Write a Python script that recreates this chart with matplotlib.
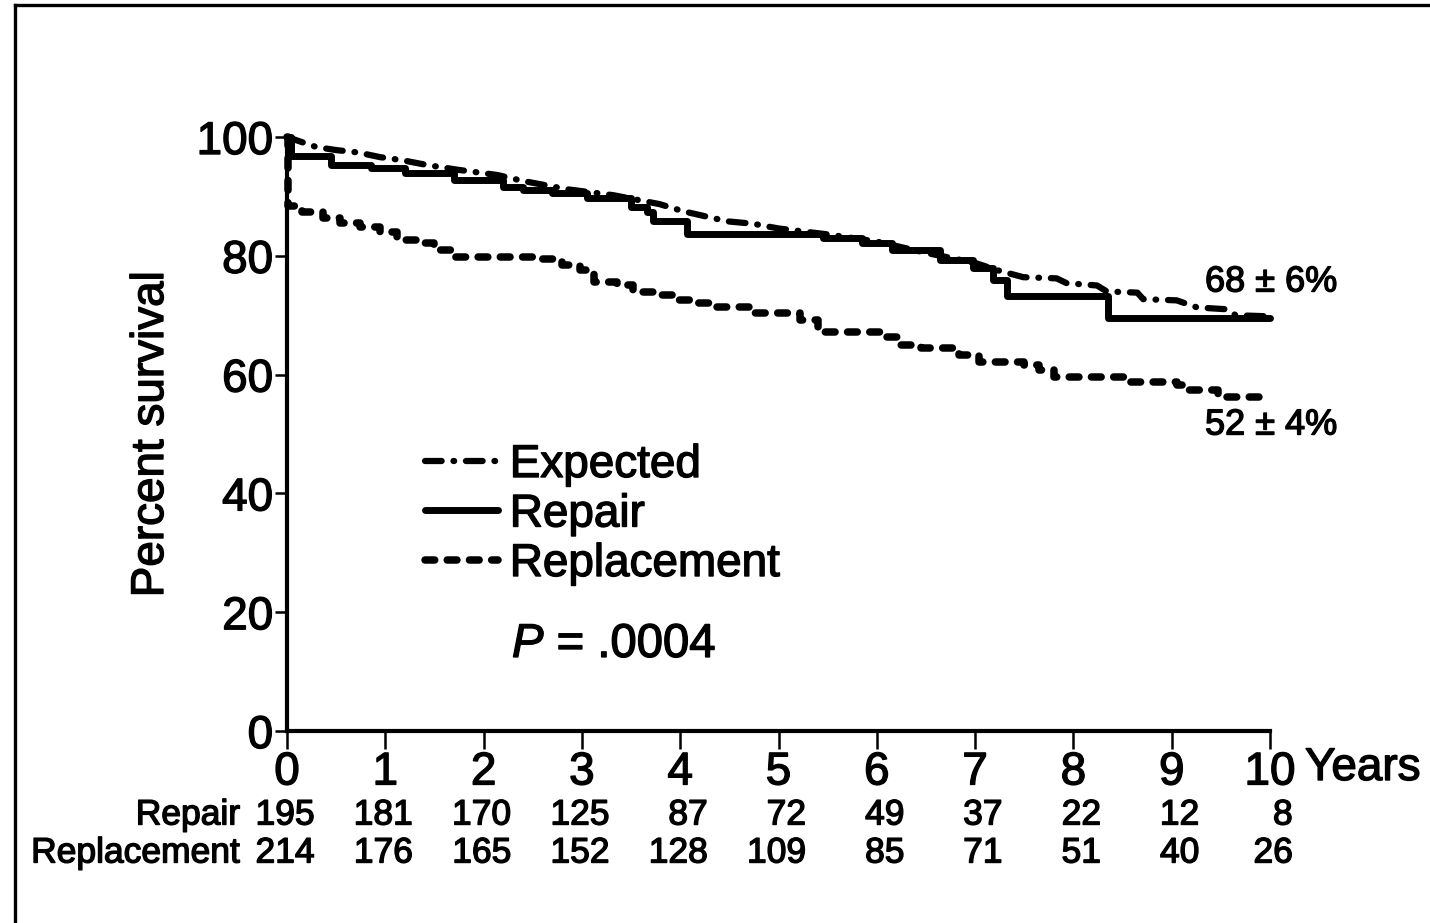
import matplotlib
matplotlib.use("Agg")
import matplotlib.pyplot as plt
import matplotlib.patheffects as pe
from matplotlib.lines import Line2D
from matplotlib.text import Text

# Kaplan-Meier survival after surgery, years 0-10
expected_t = [0, 0.3, 0.5, 0.72, 0.95, 1.17, 1.42, 1.73, 2.14, 2.4, 2.85, 3.32, 3.79,
              4.03, 4.48, 4.74, 5.0, 5.5, 6.0, 6.5, 7.0, 7.22, 7.49, 7.83, 7.93, 8.24,
              8.34, 8.65, 8.71, 9.05, 9.26, 9.56, 9.65, 10.0]
expected_s = [100, 98.3, 97.8, 97.4, 96.6, 96.1, 95.3, 94.5, 93.6, 92.6, 91.2, 90.2, 88.7,
              87.5, 85.8, 85.4, 84.6, 83.6, 82.4, 80.5, 78.8, 77.6, 76.4, 76.2, 75.4, 75.0,
              74.0, 73.8, 72.7, 72.5, 71.3, 71.0, 70.0, 69.8]

repair_t = [0, 0.04, 0.45, 0.85, 1.2, 1.7, 2.2, 2.4, 2.7, 3.05, 3.5, 3.66, 3.72, 4.07,
            5.45, 5.85, 6.15, 6.64, 6.98, 7.18, 7.32, 8.35, 10.0]
repair_s = [100, 96.8, 95.3, 94.8, 93.9, 92.8, 91.6, 91.0, 90.6, 89.7, 88.2, 87.4, 85.8, 83.7,
            83.0, 82.2, 81.0, 79.3, 78.0, 75.9, 73.3, 69.5, 69.5]

replacement_t = [0, 0.01, 0.15, 0.37, 0.54, 0.74, 0.95, 1.12, 1.32, 1.5, 1.69, 2.5, 2.8,
                 2.98, 3.12, 3.36, 3.52, 3.72, 3.93, 4.13, 4.33, 4.75, 5.22, 5.4, 6.04,
                 6.22, 6.45, 6.84, 7.04, 7.5, 7.65, 7.8, 8.52, 9.05, 9.18, 9.47, 10.0]
replacement_s = [100, 88.3, 87.4, 86.4, 85.5, 84.8, 84.0, 82.7, 82.2, 81.0, 79.8, 79.4, 78.4,
                 77.6, 75.6, 75.1, 73.9, 73.4, 72.6, 72.1, 71.4, 70.4, 69.2, 67.2, 66.3,
                 65.0, 64.5, 63.3, 62.1, 61.6, 60.8, 59.6, 58.8, 58.2, 57.4, 56.2, 56.2]

# Patients at risk at each year
years = list(range(0, 11))
at_risk_repair = [195, 181, 170, 125, 87, 72, 49, 37, 22, 12, 8]
at_risk_replacement = [214, 176, 165, 152, 128, 109, 85, 71, 51, 40, 26]

# 10-year survival estimates (mean, SE)
repair_10yr = (68, 6)
replacement_10yr = (52, 4)
p_value = ".0004"

plt.rcParams["font.family"] = ["Liberation Sans", "DejaVu Sans"]
plt.rcParams["mathtext.fontset"] = "custom"
plt.rcParams["mathtext.it"] = "Liberation Sans:italic"
plt.rcParams["mathtext.rm"] = "Liberation Sans"
plt.rcParams["lines.scale_dashes"] = False

W, H = 1430, 923
fig = plt.figure(figsize=(W / 100, H / 100), dpi=100)
fig.patch.set_facecolor("white")

x0, x1, y0, y1 = 287, 1270, 731, 137
ax = fig.add_axes([x0 / W, 1 - y0 / H, (x1 - x0) / W, (y0 - y1) / H])
ax.set_xlim(0, 10)
ax.set_ylim(0, 100)
for side in ("top", "right"):
    ax.spines[side].set_visible(False)
for side in ("left", "bottom"):
    ax.spines[side].set_linewidth(3.0)
    ax.spines[side].set_capstyle("projecting")

ax.set_xticks(years)
ax.set_xticklabels([str(y) for y in years])
ax.set_yticks([0, 20, 40, 60, 80, 100])
ax.tick_params(axis="x", direction="out", length=13, width=1.8, pad=1, labelsize=33)
ax.tick_params(axis="y", direction="out", length=9, width=1.8, pad=1, labelsize=33)

ax.set_ylabel("Percent survival", fontsize=33, labelpad=17)

ax.plot(expected_t, expected_s, color="black", lw=4.5, clip_on=False,
        linestyle=(0, (12, 8.5, 0.5, 8.5)), dash_capstyle="round",
        solid_capstyle="round", label="Expected")
ax.plot(repair_t, repair_s, color="black", lw=5.0, clip_on=False,
        drawstyle="steps-post", solid_capstyle="round", label="Repair")
ax.plot(replacement_t, replacement_s, color="black", lw=5.4, clip_on=False,
        drawstyle="steps-post", linestyle=(0, (7, 9)), dash_capstyle="round",
        label="Replacement")

leg = ax.legend(loc="upper left", bbox_to_anchor=((425 - x0) / (x1 - x0), (y0 - 443) / (y0 - y1)),
                frameon=False, fontsize=33, handlelength=1.6, handletextpad=0.25,
                labelspacing=0.12, borderpad=0, borderaxespad=0)

def data_xy(px, py):
    return (px - x0) / (x1 - x0) * 10, (y0 - py) / (y0 - y1) * 100

tx, ty = data_xy(512, 645)
ax.text(tx, ty, f"$P$ = {p_value}", fontsize=34, ha="left", va="center")

tx, ty = data_xy(1205, 282)
ax.text(tx, ty, f"{repair_10yr[0]} \u00b1 {repair_10yr[1]}%", fontsize=26,
        ha="left", va="center", clip_on=False)
tx, ty = data_xy(1205, 425)
ax.text(tx, ty, f"{replacement_10yr[0]} \u00b1 {replacement_10yr[1]}%", fontsize=26,
        ha="left", va="center", clip_on=False)

tx, ty = data_xy(1305, 768)
ax.text(tx, ty, "Years", fontsize=33, ha="left", va="center", clip_on=False)

# numbers at risk table
_, ry1 = data_xy(0, 815)
_, ry2 = data_xy(0, 853)
lx, _ = data_xy(240, 0)
ax.text(lx, ry1, "Repair", fontsize=25.5, ha="right", va="center", clip_on=False)
ax.text(lx, ry2, "Replacement", fontsize=25.5, ha="right", va="center", clip_on=False)
for yr, a, b in zip(years, at_risk_repair, at_risk_replacement):
    xr = yr + 0.28 if yr < 10 else yr + 0.23
    ax.text(xr, ry1, str(a), fontsize=25.5, ha="right", va="center", clip_on=False)
    ax.text(xr, ry2, str(b), fontsize=25.5, ha="right", va="center", clip_on=False)

# outer frame (left and top edges)
fig.add_artist(Line2D([15 / W, 15 / W], [0, 1 - 5 / H], color="black", lw=2.4,
                      transform=fig.transFigure))
fig.add_artist(Line2D([15 / W, 1], [1 - 5 / H, 1 - 5 / H], color="black", lw=2.4,
                      transform=fig.transFigure))

# heavier type, like the printed figure
for t in fig.findobj(Text):
    t.set_path_effects([pe.withStroke(linewidth=1.0, foreground="black")])

fig.savefig("out.png", dpi=100, facecolor="white")
